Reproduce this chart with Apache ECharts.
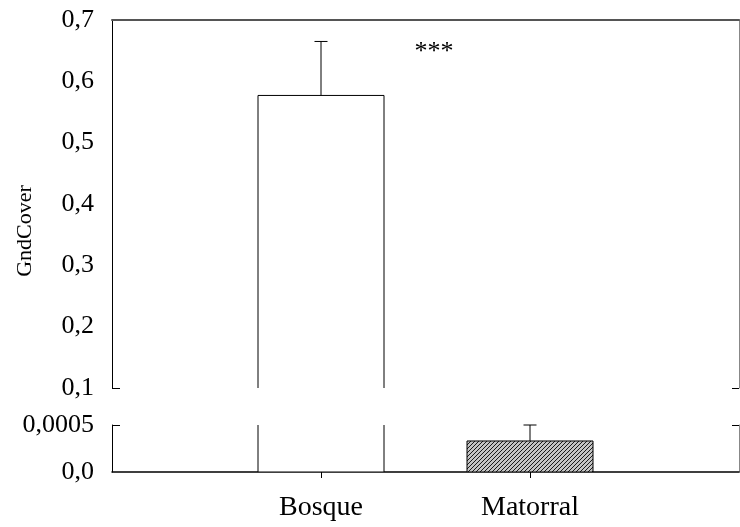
<!DOCTYPE html>
<html>
<head>
<meta charset="utf-8">
<script src="https://cdn.jsdelivr.net/npm/echarts@6/dist/echarts.min.js"></script>
<style>
  html, body { margin: 0; padding: 0; background: #fff; }
  #main { width: 740px; height: 527px; }
</style>
</head>
<body>
<div id="main"></div>
<script>
// data
const categories = ['Bosque', 'Matorral'];
const means = [0.577, 0.00033];
const errors = [0.088, 0.00017];
const upperRange = [0.1, 0.7];      // upper panel of the broken axis
const lowerRange = [0, 0.0005];     // lower panel
const yTitle = 'GndCover';
const signif = '***';

const FONT = "'Liberation Serif', 'Times New Roman', serif";
const BAR_W = 126;

// hatch for the second bar
function makeHatch() {
  const c = document.createElement('canvas');
  c.width = 4; c.height = 4;
  const ctx = c.getContext('2d');
  ctx.fillStyle = '#c4c4c4';
  ctx.fillRect(0, 0, 4, 4);
  ctx.strokeStyle = '#1a1a1a';
  ctx.lineWidth = 1;
  ctx.beginPath();
  ctx.moveTo(0, 4); ctx.lineTo(4, 0);
  ctx.moveTo(-1, 1); ctx.lineTo(1, -1);
  ctx.moveTo(3, 5); ctx.lineTo(5, 3);
  ctx.stroke();
  return c;
}
const fills = ['#fff', { image: makeHatch(), repeat: 'repeat' }];

// padded category axis so that the two bars sit at 1/3 and 2/3
const axisCats = [''].concat(categories, ['']);
const barData = means.map(function(v, i) { return [i + 1, v]; });

const errUpper = [], errLower = [];
means.forEach(function(m, i) {
  const item = [i + 1, m, m + errors[i]];
  if (m >= upperRange[0]) errUpper.push(item); else errLower.push(item);
});

// bars drawn as rects so the panel clip cuts them without closing borders
function renderBar(params, api) {
  const top = api.coord([api.value(0), api.value(1)]);
  const base = api.coord([api.value(0), 0]);
  return {
    type: 'rect',
    shape: { x: top[0] - BAR_W / 2, y: top[1], width: BAR_W, height: base[1] - top[1] },
    style: { fill: fills[params.dataIndex], stroke: '#000', lineWidth: 1 }
  };
}

function renderErr(params, api) {
  const p0 = api.coord([api.value(0), api.value(1)]);
  const p1 = api.coord([api.value(0), api.value(2)]);
  return {
    type: 'group',
    children: [
      { type: 'line', shape: { x1: p0[0], y1: p0[1], x2: p1[0], y2: p1[1] }, style: { stroke: '#000', lineWidth: 1 } },
      { type: 'line', shape: { x1: p1[0] - 6.5, y1: p1[1], x2: p1[0] + 6.5, y2: p1[1] }, style: { stroke: '#000', lineWidth: 1 } }
    ]
  };
}

const showCat = function(i) { return i === 1 || i === 2; };
const commaFmt = function(v) {
  return v === 0 ? '0,0' : (v >= 0.01 ? v.toFixed(1) : String(v)).replace('.', ',');
};

let myChart = echarts.init(document.getElementById('main'));
let option = {
  animation: false,
  textStyle: { fontFamily: FONT },
  grid: [
    { left: 112, right: 1, top: 20, height: 368 },
    { left: 112, right: 1, top: 425, height: 47 }
  ],
  xAxis: [
    {
      gridIndex: 0, type: 'category', data: axisCats, boundaryGap: false, position: 'top',
      axisLine: { lineStyle: { color: '#555', width: 2 } },
      axisTick: { show: false }, axisLabel: { show: false }
    },
    {
      gridIndex: 1, type: 'category', data: axisCats, boundaryGap: false, position: 'bottom',
      axisLine: { lineStyle: { color: '#000', width: 1.5 } },
      axisTick: { interval: showCat, length: 6, lineStyle: { color: '#000' } },
      axisLabel: { interval: showCat, color: '#000', fontSize: 28, margin: 22, fontFamily: FONT }
    }
  ],
  yAxis: [
    {
      gridIndex: 0, type: 'value', position: 'left', min: upperRange[0], max: upperRange[1], interval: 0.1,
      splitLine: { show: false },
      axisLine: { show: true, lineStyle: { color: '#000' } },
      axisTick: { length: 8, lineStyle: { color: '#000' } },
      axisLabel: { color: '#000', fontSize: 26, margin: 18, fontFamily: FONT, formatter: commaFmt }
    },
    {
      gridIndex: 0, type: 'value', position: 'right', min: upperRange[0], max: upperRange[1],
      splitLine: { show: false },
      axisLine: { show: true, lineStyle: { color: '#888' } },
      axisTick: { show: true, inside: true, length: 7, customValues: [upperRange[0]], lineStyle: { color: '#000' } },
      axisLabel: { show: false }
    },
    {
      gridIndex: 0, type: 'value', position: 'left', min: upperRange[0], max: upperRange[1],
      splitLine: { show: false }, axisLine: { show: false },
      axisTick: { show: true, inside: true, length: 8, customValues: [upperRange[0]], lineStyle: { color: '#000' } },
      axisLabel: { show: false }
    },
    {
      gridIndex: 1, type: 'value', position: 'left', min: lowerRange[0], max: lowerRange[1], interval: 0.0005,
      splitLine: { show: false },
      axisLine: { show: true, lineStyle: { color: '#000' } },
      axisTick: { length: 8, lineStyle: { color: '#000' } },
      axisLabel: { color: '#000', fontSize: 26, margin: 18, fontFamily: FONT, formatter: commaFmt }
    },
    {
      gridIndex: 1, type: 'value', position: 'right', min: lowerRange[0], max: lowerRange[1],
      splitLine: { show: false },
      axisLine: { show: true, lineStyle: { color: '#888' } },
      axisTick: { show: true, inside: true, length: 7, customValues: [lowerRange[1]], lineStyle: { color: '#000' } },
      axisLabel: { show: false }
    },
    {
      gridIndex: 1, type: 'value', position: 'left', min: lowerRange[0], max: lowerRange[1],
      splitLine: { show: false }, axisLine: { show: false },
      axisTick: { show: true, inside: true, length: 8, customValues: [lowerRange[1]], lineStyle: { color: '#000' } },
      axisLabel: { show: false }
    }
  ],
  series: [
    {
      type: 'custom', xAxisIndex: 0, yAxisIndex: 0, data: barData, renderItem: renderBar,
      encode: { x: 0, y: 1 }, clip: true
    },
    {
      type: 'custom', xAxisIndex: 1, yAxisIndex: 3, data: barData, renderItem: renderBar,
      encode: { x: 0, y: 1 }, clip: true
    },
    {
      type: 'custom', xAxisIndex: 0, yAxisIndex: 0, data: errUpper, renderItem: renderErr,
      encode: { x: 0, y: [1, 2] }, z: 5
    },
    {
      type: 'custom', xAxisIndex: 1, yAxisIndex: 3, data: errLower, renderItem: renderErr,
      encode: { x: 0, y: [1, 2] }, z: 5
    }
  ],
  graphic: [
    {
      type: 'text', x: 25, y: 231, rotation: Math.PI / 2,
      style: { text: yTitle, fill: '#000', font: '22px ' + FONT, align: 'center', verticalAlign: 'middle' }
    },
    {
      type: 'text', x: 434, y: 52,
      style: { text: signif, fill: '#000', font: '26px ' + FONT, align: 'center', verticalAlign: 'middle' }
    }
  ]
};

myChart.setOption(option);
</script>
</body>
</html>
